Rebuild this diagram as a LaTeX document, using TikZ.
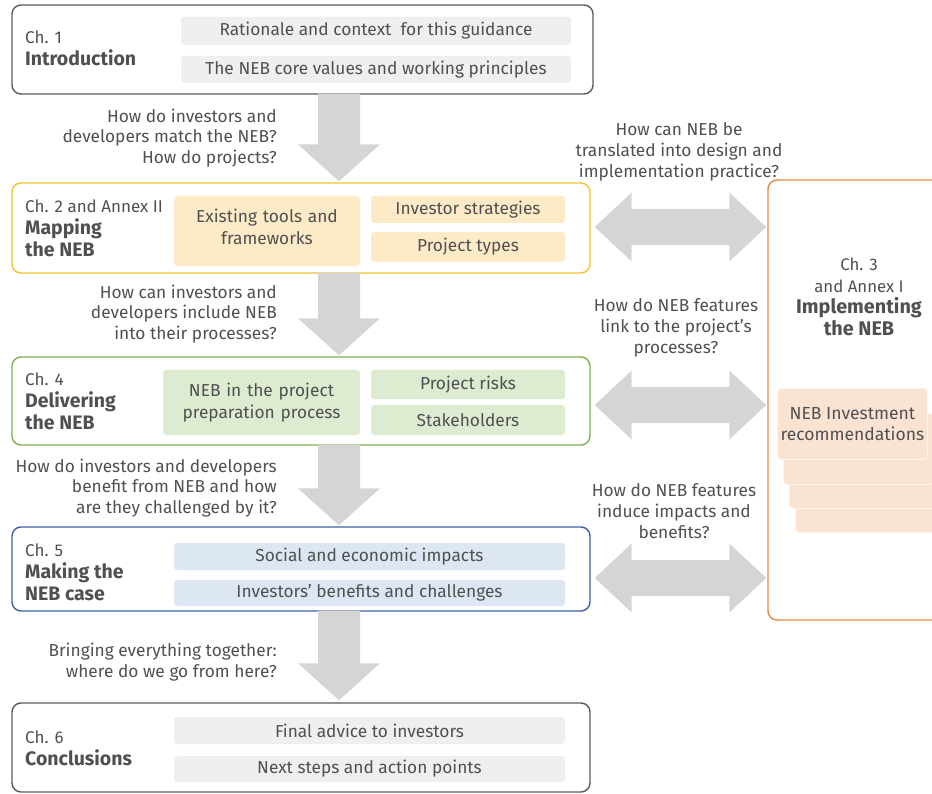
\documentclass[tikz,border=0pt]{standalone}
\usepackage{fontspec}
\setmainfont{Fira Sans}
\usetikzlibrary{calc}
\definecolor{txt}{HTML}{505050}
\definecolor{arrowgrey}{HTML}{D5D5D5}
\definecolor{bargrey}{HTML}{EFEFEF}
\definecolor{yfill}{HTML}{FDEBC8}
\definecolor{yline}{HTML}{F0C32E}
\definecolor{gfill}{HTML}{DDEBD0}
\definecolor{gline}{HTML}{7DB04A}
\definecolor{bfill}{HTML}{DCE7F3}
\definecolor{bline}{HTML}{3E5FA6}
\definecolor{pfill}{HTML}{FBE3D4}
\definecolor{oline}{HTML}{E58A3F}
\definecolor{kline}{HTML}{5A5A5A}
\newcommand\vblock[2]{\fill[arrowgrey] ($(#1)+(-21,-1)$) -- ($(#2)+(-21,-37)$) -- ++(-20,0) -- (#2) -- ++(41,-37) -- ++(-20,0) -- ($(#1)+(21,-1)$) -- cycle;}
\newcommand\hblock[2]{\fill[arrowgrey] (#1) -- ++(37,-34.5) -- ++(0,16.5) -- ($(#2)+(-37,-18)$) -- ++(0,-16.5) -- (#2) -- ++(-37,34.5) -- ++(0,-16.5) -- ($(#1)+(37,18)$) -- ++(0,16.5) -- cycle;}
\newcommand\bfhead[1]{{\fontsize{19.5}{22}\selectfont\bfseries #1}}
\begin{document}
\begin{tikzpicture}[x=1pt,y=-1pt,
  font=\fontsize{17.3}{20.7}\selectfont, text=txt,
  chbox/.style={draw=#1, rounded corners=9pt, line width=1.4pt, inner sep=0pt},
  bar/.style={fill=#1, rounded corners=3pt, inner sep=0pt, align=center},
  twoline/.style={font=\fontsize{17.3}{22}\selectfont},
  head/.style={anchor=west, align=left, inner sep=0pt, font=\fontsize{17}{22}\selectfont},
  qleft/.style={anchor=east, align=right, inner sep=0pt},
  qright/.style={align=center, inner sep=0pt},
  peach/.style={fill=pfill, draw=white!60!pfill, line width=0.8pt, rounded corners=4pt, inner sep=0pt, minimum width=150pt, minimum height=71pt, anchor=north west}]
\useasboundingbox (0,0) rectangle (932,794);
\clip (0,0) rectangle (932,794);
\coordinate (ax) at (339,0);

% chapter boxes
\node[chbox=kline, minimum width=581pt, minimum height=89pt] (c1) at (302.5,49.5) {};
\node[chbox=yline, minimum width=578pt, minimum height=90pt] (c2) at (301,228) {};
\node[chbox=gline, minimum width=578pt, minimum height=88pt] (c3) at (301,401) {};
\node[chbox=bline, minimum width=578pt, minimum height=84pt] (c4) at (301,569) {};
\node[chbox=kline, minimum width=578pt, minimum height=89pt] (c5) at (301,747.5) {};
\node[chbox=oline, minimum width=192pt, minimum height=440pt] (c7) at (864,400) {};

% vertical arrows
\coordinate (v1t) at (c1.south -| ax); \coordinate (v1b) at ($(c2.north -| ax)+(0,-1)$);
\coordinate (v2t) at (c2.south -| ax); \coordinate (v2b) at ($(c3.north -| ax)+(0,-1)$);
\coordinate (v3t) at (c3.south -| ax); \coordinate (v3b) at ($(c4.north -| ax)+(0,-1)$);
\coordinate (v4t) at (c4.south -| ax); \coordinate (v4b) at ($(c5.north -| ax)+(0,-2)$);
\vblock{v1t}{v1b}
\vblock{v2t}{v2b}
\vblock{v3t}{v3b}
\vblock{v4t}{v4b}

% horizontal double arrows
\coordinate (h1l) at ($(c2.east)+(4,-1)$); \coordinate (h1r) at ($(c2.east -| c7.west)+(-1,-1)$);
\coordinate (h2l) at ($(c3.east)+(4,4)$); \coordinate (h2r) at ($(c3.east -| c7.west)+(-1,4)$);
\coordinate (h3l) at ($(c4.east)+(4,9)$); \coordinate (h3r) at ($(c4.east -| c7.west)+(-1,9)$);
\hblock{h1l}{h1r}
\hblock{h2l}{h2r}
\hblock{h3l}{h3r}

% inner bars
\node[bar=bargrey, minimum width=390pt, minimum height=28pt] (b11) at (376,31) {Rationale and context\ \ for this guidance};
\node[bar=bargrey, minimum width=390pt, minimum height=27pt] (b12) at (376,69.5) {The NEB core values and working principles};
\node[bar=yfill, twoline, minimum width=186pt, minimum height=70pt, text width=180pt] (b21) at (267,231) {\raisebox{0pt}{}Existing tools and\\frameworks\vspace{8pt}};
\node[bar=yfill, minimum width=194pt, minimum height=27pt] (b22) at (468,209.5) {Investor strategies};
\node[bar=yfill, minimum width=194pt, minimum height=30pt] (b23) at (468,247) {Project types};
\node[bar=gfill, twoline, minimum width=197pt, minimum height=65pt, text width=190pt] (b31) at (261.5,402.5) {NEB in the project\\preparation process};
\node[bar=gfill, minimum width=194pt, minimum height=29pt] (b32) at (468,384.5) {Project risks};
\node[bar=gfill, minimum width=194pt, minimum height=30pt] (b33) at (468,420) {Stakeholders};
\node[bar=bfill, minimum width=391pt, minimum height=27pt] (b41) at (369.5,556.5) {Social and economic impacts};
\node[bar=bfill, minimum width=391pt, minimum height=26pt] (b42) at (369.5,593) {Investors’ benefits and challenges};
\node[bar=bargrey, minimum width=391pt, minimum height=27pt] (b51) at (369.5,730.5) {Final advice to investors};
\node[bar=bargrey, minimum width=391pt, minimum height=26pt] (b52) at (369.5,769) {Next steps and action points};

% peach stack
\node[peach] (p3) at (795,461) {};
\node[peach] (p2) at (789,437) {};
\node[peach] (p1) at (783,413) {};
\node[peach, align=center, font=\fontsize{17.5}{21}\selectfont] (p0) at (777,388) {NEB Investment\\recommendations};

% chapter headings
\node[head] (t1) at (25,48) {Ch. 1\\\bfhead{Introduction}};
\node[head] (t2) at (25,228) {Ch. 2 and Annex II\\\bfhead{Mapping}\\\bfhead{the NEB}};
\node[head] (t3) at (25,401) {Ch. 4\\\bfhead{Delivering}\\\bfhead{the NEB}};
\node[head] (t4) at (25,572) {Ch. 5\\\bfhead{Making the}\\\bfhead{NEB case}};
\node[head] (t5) at (25,748) {Ch. 6\\\bfhead{Conclusions}};
\node[align=center, inner sep=0pt, font=\fontsize{16.8}{21.5}\selectfont] (t7) at (859,297) {Ch. 3\\and Annex I\\{\fontsize{19.8}{23}\selectfont\bfseries Implementing}\\{\fontsize{19.8}{23}\selectfont\bfseries the NEB}};

% questions
\node[qleft] (q1) at (277,138) {How do investors and\\developers match the NEB?\\How do projects?};
\node[qleft] (q2) at (277,314) {How can investors and\\developers include NEB\\into their processes?};
\node[qleft] (q3) at (277,488) {How do investors and developers\\benefit from NEB and how\\are they challenged by it?};
\node[qleft] (q4) at (277,662) {Bringing everything together:\\where do we go from here?};
\node[qright] (r1) at (679,152) {How can NEB be\\translated into design and\\implementation practice?};
\node[qright] (r2) at (676,328) {How do NEB features\\link to the project’s\\processes?};
\node[qright] (r3) at (674,511) {How do NEB features\\induce impacts and\\benefits?};
\end{tikzpicture}
\end{document}
